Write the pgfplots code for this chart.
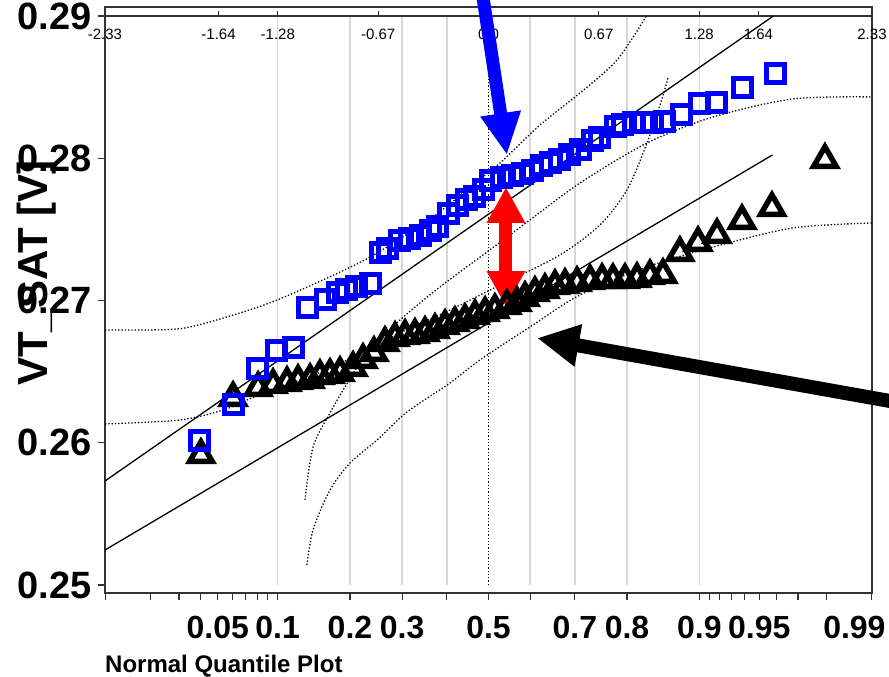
\documentclass[border=0pt]{standalone}
\usepackage{pgfplots}
\pgfplotsset{compat=1.18}
\usepackage{fontspec}
\setmainfont{Liberation Sans}
\usetikzlibrary{arrows.meta}
\definecolor{gridgray}{RGB}{215,215,215}
\definecolor{framegray}{RGB}{50,50,50}
\pgfplotstableread{
z v
-1.747 0.25915
-1.552 0.26316
-1.400 0.26386
-1.309 0.26407
-1.224 0.26421
-1.157 0.26435
-1.084 0.26442
-1.024 0.26470
-0.963 0.26477
-0.902 0.26491
-0.823 0.26527
-0.762 0.26583
-0.696 0.26632
-0.629 0.26702
-0.568 0.26737
-0.507 0.26752
-0.447 0.26759
-0.386 0.26773
-0.325 0.26794
-0.264 0.26822
-0.204 0.26843
-0.143 0.26864
-0.082 0.26892
-0.021 0.26913
0.039 0.26934
0.112 0.26962
0.173 0.26983
0.222 0.27019
0.282 0.27054
0.343 0.27075
0.404 0.27103
0.465 0.27110
0.538 0.27124
0.617 0.27138
0.690 0.27145
0.756 0.27145
0.829 0.27145
0.902 0.27152
0.981 0.27173
1.060 0.27180
1.163 0.27335
1.273 0.27405
1.388 0.27462
1.540 0.27560
1.722 0.27651
2.044 0.27989
}\tri
\pgfplotstableread{
z v
-1.753 0.26019
-1.552 0.26272
-1.406 0.26525
-1.291 0.26652
-1.182 0.26673
-1.097 0.26954
-0.993 0.27004
-0.920 0.27053
-0.860 0.27074
-0.799 0.27095
-0.714 0.27123
-0.659 0.27334
-0.611 0.27369
-0.538 0.27425
-0.477 0.27439
-0.416 0.27460
-0.355 0.27489
-0.307 0.27517
-0.246 0.27615
-0.191 0.27671
-0.131 0.27707
-0.088 0.27728
-0.033 0.27777
0.015 0.27847
0.082 0.27868
0.143 0.27882
0.204 0.27896
0.270 0.27917
0.325 0.27946
0.374 0.27967
0.434 0.27988
0.495 0.28023
0.556 0.28058
0.629 0.28128
0.677 0.28149
0.769 0.28220
0.817 0.28234
0.878 0.28248
0.939 0.28248
0.999 0.28248
1.072 0.28255
1.170 0.28311
1.279 0.28388
1.388 0.28395
1.546 0.28494
1.741 0.28599
}\sq
\begin{document}
\begin{tikzpicture}
\path[use as bounding box] (-105pt,-84pt) rectangle (784pt,593pt);
\begin{axis}[
  at={(0pt,0pt)}, anchor=south west,
  scale only axis, width=767pt, height=586pt,
  xmin=-2.33, xmax=2.33, ymin=0.249438, ymax=0.290633,
  clip=false,
  axis line style={framegray, line width=1.6pt},
  tick align=outside, xtick pos=bottom, ytick pos=left,
  major tick length=7pt,
  tick style={framegray, line width=1.2pt},
  ytick={0.25,0.26,0.27,0.28,0.29},
  yticklabel={\pgfmathprintnumber[fixed,fixed zerofill,precision=2,assume math mode=true]{\tick}},
  yticklabel style={font=\fontsize{38}{40}\selectfont\bfseries, inner sep=6pt},
  xtick={-2.3263,-2.0537,-1.8808,-1.7507,-1.6449,-1.5548,-1.4758,-1.4051,-1.3408,-1.2816,-0.8416,-0.5244,-0.2533,0,0.2533,0.5244,0.8416,1.2816,1.3408,1.4051,1.4758,1.5548,1.6449,1.7507,1.8808,2.0537,2.3263},
  xticklabels={,,,,0.05,,,,,0.1,0.2,0.3,,0.5,,0.7,0.8,0.9,,,,,0.95,,,,0.99\hspace*{34pt}},
  xticklabel style={font=\fontsize{32}{34}\selectfont\bfseries, inner sep=5pt, yshift=-11pt},
  xlabel={Normal Quantile Plot},
  xlabel style={at={(axis description cs:0,-0.125)}, anchor=west, font=\fontsize{24}{26}\selectfont\bfseries, inner sep=0pt},
  ylabel={VT\_SAT [V]},
  ylabel style={at={(axis description cs:-0.0887,0.546)}, anchor=center, font=\fontsize{42}{44}\selectfont\bfseries, inner sep=0pt},
]
% grid lines
\pgfplotsinvokeforeach{-1.2816,-0.8416,-0.5244,-0.2533,0.2533,0.5244,0.8416,1.2816}{
  \draw[gridgray, line width=1.5pt] (axis cs:#1,0.25) -- (axis cs:#1,0.29);
}
\draw[black, dotted, line width=1.3pt] (axis cs:0,0.25) -- (axis cs:0,0.29);
% top quantile axis
\draw[framegray, line width=2pt] (axis cs:-2.33,0.29) -- (axis cs:2.33,0.29);
\pgfplotsinvokeforeach{-2.33,-1.64,-1.28,-0.67,0.0,0.67,1.28,1.64,2.33}{
  \draw[framegray, line width=1.2pt] (axis cs:#1,0.29) -- (axis cs:#1,0.29035);
  \node[font=\fontsize{15}{16}\selectfont, anchor=center] at (axis cs:#1,0.28870) {#1};
}
% fit lines
\addplot[black, line width=1.3pt] coordinates {(-2.33,0.25731) (1.731,0.29)};
\addplot[black, line width=1.3pt] coordinates {(-2.33,0.25246) (1.725,0.28023)};
% confidence bands
\addplot[black, dotted, line width=1.3pt, smooth] coordinates {
(-2.33,0.26793) (-2.057,0.26793) (-1.844,0.26807) (-1.570,0.26891) (-1.285,0.27003) (-0.902,0.27200) (-0.677,0.27334) (-0.337,0.27587) (-0.112,0.27798) (0.070,0.27967) (0.313,0.28234) (0.556,0.28459) (0.781,0.28691) (0.963,0.29007)};
\addplot[black, dotted, line width=1.3pt, smooth] coordinates {
(-1.115,0.25598) (-1.066,0.25970) (-0.963,0.26209) (-0.872,0.26392) (-0.738,0.26631) (-0.538,0.26863) (-0.295,0.27095) (-0.009,0.27341) (0.252,0.27566) (0.556,0.27826) (0.963,0.28107) (1.364,0.28290) (1.850,0.28417) (2.330,0.28431)};
\addplot[black, dotted, line width=1.3pt, smooth] coordinates {
(-2.33,0.26132) (-1.874,0.26160) (-1.613,0.26230) (-1.467,0.26301) (-1.309,0.26371) (-0.963,0.26525) (-0.538,0.26772) (-0.234,0.26933) (0.070,0.27109) (0.434,0.27320) (0.677,0.27531) (0.841,0.27777) (0.963,0.28107) (1.042,0.28374) (1.091,0.28564)};
\addplot[black, dotted, line width=1.3pt, smooth] coordinates {
(-1.103,0.25141) (-1.066,0.25387) (-0.963,0.25668) (-0.841,0.25858) (-0.677,0.26019) (-0.495,0.26216) (-0.234,0.26420) (-0.052,0.26582) (0.252,0.26814) (0.556,0.27039) (0.963,0.27236) (1.364,0.27376) (1.850,0.27510) (2.330,0.27545)};
% data
\addplot[only marks, mark=triangle, mark size=13pt, mark options={line width=5.5pt, draw=black}] table[x=z,y=v] {\tri};
\addplot[only marks, mark=square, mark size=9pt, mark options={line width=5pt, draw=blue}] table[x=z,y=v] {\sq};
% annotation arrows
\draw[red, line width=13pt, {Triangle[length=36pt,width=36pt]}-{Triangle[length=36pt,width=36pt]}] (axis cs:0.106,0.27798) -- (axis cs:0.106,0.26954);
\draw[blue, line width=13pt, -{Triangle[length=42pt,width=38pt]}] (axis cs:-0.033,0.29127) -- (axis cs:0.112,0.28023);
\draw[black, line width=14pt, -{Triangle[length=42pt,width=40pt]}] (axis cs:2.47,0.26287) -- (axis cs:0.295,0.26736);
\end{axis}
\end{tikzpicture}
\end{document}
